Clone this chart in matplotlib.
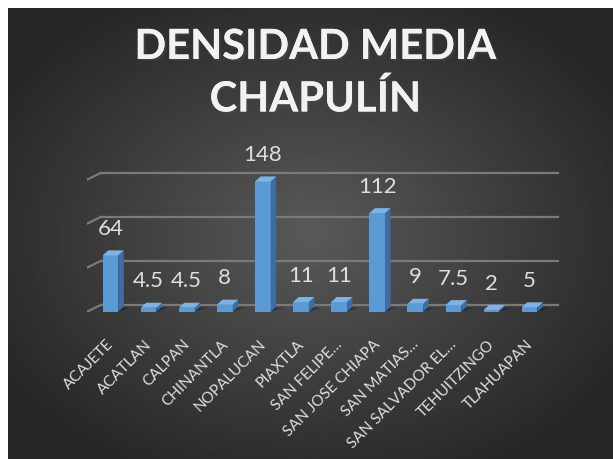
import numpy as np
import matplotlib
matplotlib.use("Agg")
import matplotlib.pyplot as plt
from matplotlib.patches import Polygon
from matplotlib.transforms import ScaledTranslation
import matplotlib.patheffects as pe

categories = ["ACAJETE", "ACATLAN", "CALPAN", "CHINANTLA", "NOPALUCAN", "PIAXTLA",
              "SAN FELIPE…", "SAN JOSE CHIAPA", "SAN MATIAS…", "SAN SALVADOR EL…",
              "TEHUITZINGO", "TLAHUAPAN"]
values = [64, 4.5, 4.5, 8, 148, 11, 11, 112, 9, 7.5, 2, 5]
gridvals = [0, 50, 100, 150]
title = "DENSIDAD MEDIA\nCHAPULÍN"

FONT = "Lato"
TXT = "#dedede"
FRONT, SIDE, TOP = "#5b9bd5", "#3c6ea3", "#7fb3e6"

W, H = 613, 459
fig = plt.figure(figsize=(W / 100, H / 100), dpi=100)
fig.patch.set_facecolor("white")

# dark radial background (starts 8px in from top/left like the reference)
bg = fig.add_axes([8 / W, 0, (W - 8) / W, (H - 8) / H])
yy, xx = np.mgrid[0:1:300j, 0:1:400j]
r = np.sqrt(((xx - 0.5) / 0.75) ** 2 + ((yy - 0.5) / 0.75) ** 2)
shade = np.clip(0.35 - 0.25 * r, 0.15, 0.35)
bg.imshow(shade, cmap="gray", vmin=0, vmax=1, extent=[0, 1, 0, 1], aspect="auto")
bg.axis("off")

# plot area in pixel geometry
x0px, x1px, basepx, ppu, cat_px, cat0 = 87, 559, 311.7, 0.88, 38.1, 110.5
top_val = 170
ax = fig.add_axes([x0px / W, (H - basepx) / H, (x1px - x0px) / W, top_val * ppu / H])
ax.patch.set_alpha(0)
xl, xr = (x0px - cat0) / cat_px, (x1px - cat0) / cat_px
ax.set_xlim(xl, xr)
ax.set_ylim(0, top_val)
for s in ax.spines.values():
    s.set_visible(False)
ax.tick_params(left=False, labelleft=False, bottom=False)

# back-wall gridlines with a perspective stub on the left
gdx, gdy = 14 / cat_px, 7.8
for v in gridvals:
    ax.plot([xl, xl + gdx], [v, v + gdy], color="#7a7a7a", lw=1.6, zorder=1)
    ax.plot([xl + gdx, xr], [v + gdy, v + gdy], color="#7a7a7a", lw=1.6, zorder=1)

x = np.arange(len(categories))
bw = 0.41
ddx, ddy = 5.5 / cat_px, 5.0 / ppu
bars = ax.bar(x, values, width=bw, color=FRONT, zorder=3)
for xi, v in zip(x, values):
    r_ = xi + bw / 2
    l_ = xi - bw / 2
    # floor shadow
    ax.add_patch(Polygon([(l_, 0), (r_, 0), (r_ + ddx * 2.2, ddy * 0.8), (l_ + ddx * 2.2, ddy * 0.8)],
                         closed=True, color="#1e1e1e", alpha=0.6, lw=0, zorder=2))
    ax.add_patch(Polygon([(r_, 0), (r_ + ddx, ddy), (r_ + ddx, v + ddy), (r_, v)],
                         closed=True, color=SIDE, lw=0, zorder=3))
    ax.add_patch(Polygon([(l_, v), (r_, v), (r_ + ddx, v + ddy), (l_ + ddx, v + ddy)],
                         closed=True, color=TOP, lw=0, zorder=3))
    ax.annotate(f"{v:g}", (xi, v), xytext=(0, 19), textcoords="offset points",
                ha="center", va="center", fontsize=16, color=TXT, family=FONT, zorder=4)

ax.set_xticks(x)
ax.set_xticklabels(categories, rotation=45, ha="right", va="top", rotation_mode="anchor",
                   fontsize=11, color=TXT, family=FONT)
ax.tick_params(axis="x", pad=15)
shift = ScaledTranslation(-4 / 100, 0, fig.dpi_scale_trans)
for lab in ax.get_xticklabels():
    lab.set_transform(lab.get_transform() + shift)

fig.text((8 + W) / 2 / W + 0.008, 1 - 28 / H, title, ha="center", va="top",
         fontsize=30, fontweight="bold", color="#f2f2f2", family=FONT, linespacing=1.4,
         path_effects=[pe.withSimplePatchShadow(offset=(1.5, -1.5), alpha=0.5), pe.Normal()])

fig.savefig("out.png", dpi=100, facecolor="white")
